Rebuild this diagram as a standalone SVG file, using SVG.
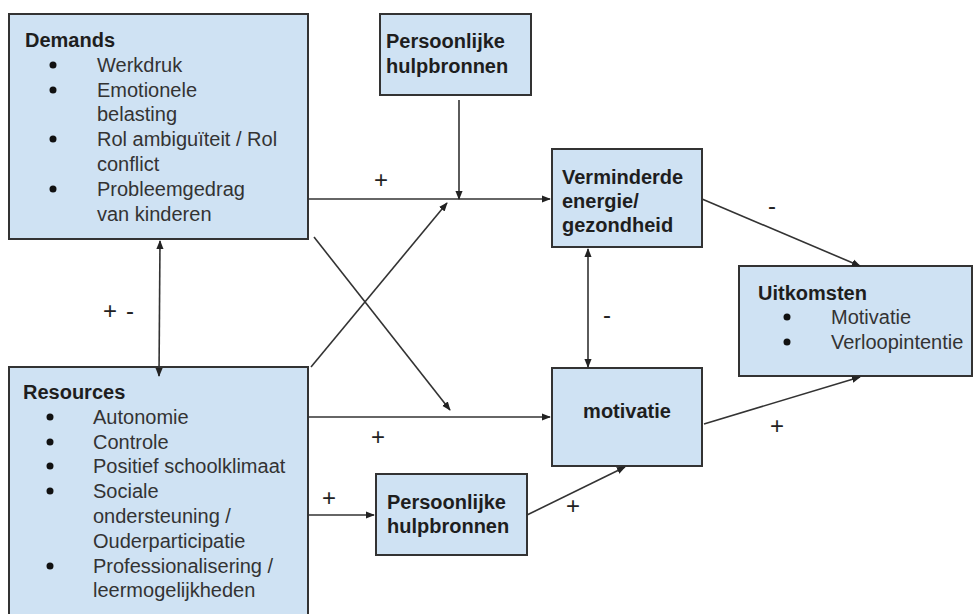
<svg xmlns="http://www.w3.org/2000/svg" width="974" height="614" viewBox="0 0 974 614">
<style>
.box{fill:#cfe2f3;stroke:#333;stroke-width:2}
text{font-family:"Liberation Sans",Arial,sans-serif;font-size:20px;fill:#333}
.b{font-weight:bold;fill:#1e1e1e}
.lbl{text-anchor:middle;font-size:24px;fill:#222}
.ln{stroke:#333;stroke-width:1.6;fill:none}
.dot{fill:#111}
</style>
<defs>
<marker id="ah" viewBox="0 0 10 10" refX="9" refY="5" markerWidth="9" markerHeight="9" markerUnits="userSpaceOnUse" orient="auto-start-reverse">
<path d="M0,1 L10,5 L0,9 z" fill="#222"/>
</marker>
</defs>
<rect width="974" height="614" fill="#fff"/>
<g id="demands">
<rect class="box" x="9" y="14" width="299" height="225"/>
<text class="b" x="25" y="47">Demands</text>
<circle class="dot" cx="53" cy="65" r="3.5"/>
<text x="97" y="72">Werkdruk</text>
<circle class="dot" cx="53" cy="90" r="3.5"/>
<text x="97" y="97">Emotionele</text>
<text x="97" y="121">belasting</text>
<circle class="dot" cx="53" cy="139" r="3.5"/>
<text x="97" y="146">Rol ambiguïteit / Rol</text>
<text x="97" y="171">conflict</text>
<circle class="dot" cx="53" cy="189" r="3.5"/>
<text x="97" y="196">Probleemgedrag</text>
<text x="97" y="221">van kinderen</text>
</g>
<g id="resources">
<rect class="box" x="9" y="367" width="299" height="260"/>
<text class="b" x="23" y="399">Resources</text>
<circle class="dot" cx="50" cy="417" r="3.5"/>
<text x="93" y="424">Autonomie</text>
<circle class="dot" cx="50" cy="442" r="3.5"/>
<text x="93" y="449">Controle</text>
<circle class="dot" cx="50" cy="466" r="3.5"/>
<text x="93" y="473">Positief schoolklimaat</text>
<circle class="dot" cx="50" cy="491" r="3.5"/>
<text x="93" y="498">Sociale</text>
<text x="93" y="523">ondersteuning /</text>
<text x="93" y="548">Ouderparticipatie</text>
<circle class="dot" cx="50" cy="566" r="3.5"/>
<text x="93" y="573">Professionalisering /</text>
<text x="93" y="597">leermogelijkheden</text>
</g>
<g id="persoonlijk-top">
<rect class="box" x="380" y="14" width="151" height="81"/>
<text class="b" x="386" y="48">Persoonlijke</text>
<text class="b" x="386" y="73">hulpbronnen</text>
</g>
<g id="verminderde">
<rect class="box" x="552" y="149" width="150" height="98"/>
<text class="b" x="562" y="184">Verminderde</text>
<text class="b" x="562" y="208">energie/</text>
<text class="b" x="562" y="232">gezondheid</text>
</g>
<g id="motivatie">
<rect class="box" x="552" y="368" width="150" height="98"/>
<text class="b" x="627" y="418" text-anchor="middle">motivatie</text>
</g>
<g id="persoonlijk-bottom">
<rect class="box" x="376" y="474" width="151" height="81"/>
<text class="b" x="387" y="509">Persoonlijke</text>
<text class="b" x="387" y="533">hulpbronnen</text>
</g>
<g id="uitkomsten">
<rect class="box" x="739" y="266" width="233" height="110"/>
<text class="b" x="758" y="300">Uitkomsten</text>
<circle class="dot" cx="787" cy="317" r="3.5"/>
<text x="831" y="324">Motivatie</text>
<circle class="dot" cx="787" cy="342" r="3.5"/>
<text x="831" y="349">Verloopintentie</text>
</g>
<g id="connectors">
<line class="ln" x1="308" y1="199" x2="550" y2="199" marker-end="url(#ah)"/>
<line class="ln" x1="459" y1="100" x2="459" y2="199" marker-end="url(#ah)"/>
<line class="ln" x1="311" y1="367" x2="447" y2="203" marker-end="url(#ah)"/>
<line class="ln" x1="314" y1="237" x2="450" y2="410" marker-end="url(#ah)"/>
<line class="ln" x1="160" y1="241" x2="159" y2="376" marker-start="url(#ah)" marker-end="url(#ah)"/>
<line class="ln" x1="588" y1="249" x2="588" y2="367" marker-start="url(#ah)" marker-end="url(#ah)"/>
<line class="ln" x1="308" y1="417" x2="550" y2="417" marker-end="url(#ah)"/>
<line class="ln" x1="308" y1="515" x2="374" y2="515" marker-end="url(#ah)"/>
<line class="ln" x1="527" y1="515" x2="625" y2="467" marker-end="url(#ah)"/>
<line class="ln" x1="702" y1="199" x2="860" y2="266" marker-end="url(#ah)"/>
<line class="ln" x1="704" y1="424" x2="860" y2="377" marker-end="url(#ah)"/>
</g>
<g id="labels">
<text class="lbl" x="381" y="188">+</text>
<text class="lbl" x="110" y="319">+</text>
<text class="lbl" x="130" y="319">-</text>
<text class="lbl" x="607" y="323">-</text>
<text class="lbl" x="772" y="214">-</text>
<text class="lbl" x="777" y="434">+</text>
<text class="lbl" x="378" y="445">+</text>
<text class="lbl" x="329" y="506">+</text>
<text class="lbl" x="573" y="514">+</text>
</g>
</svg>
